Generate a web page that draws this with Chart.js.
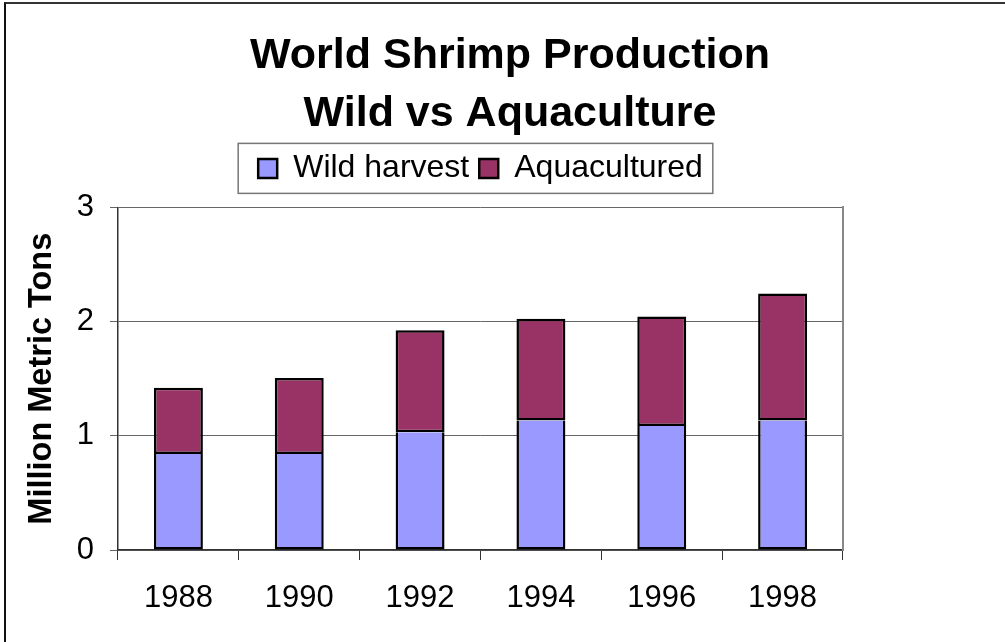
<!DOCTYPE html>
<html>
<head>
<meta charset="utf-8">
<script src="https://cdn.jsdelivr.net/npm/chart.js@4/dist/chart.umd.min.js"></script>
<style>
  html, body { margin: 0; padding: 0; background: #fff; }
  #wrap { position: relative; width: 1005px; height: 642px; }
  #frame {
    position: absolute; left: 4px; top: 2px; right: -10px; bottom: -10px;
    border-top: 2px solid #333; border-left: 2px solid #111;
    pointer-events: none;
  }
</style>
</head>
<body>
<div id="wrap">
  <canvas id="chart"></canvas>
  <div id="frame"></div>
</div>
<script>
// Data (million metric tons)
const years = ['1988', '1990', '1992', '1994', '1996', '1998'];
const wildHarvest = [0.84, 0.84, 1.03, 1.135, 1.085, 1.135];
const aquacultured = [0.58, 0.665, 0.895, 0.89, 0.96, 1.11];
const yTicks = [0, 1, 2, 3];

const FONT = "'Liberation Sans', Arial, sans-serif";
Chart.defaults.color = '#000';
Chart.defaults.font.family = FONT;

// Grey box drawn round the legend items
const legendFrame = {
  id: 'legendFrame',
  afterDraw(chart) {
    const boxes = chart.legend.legendHitBoxes;
    if (!boxes || !boxes.length) return;
    const ctx = chart.ctx;
    const first = boxes[0];
    const last = boxes[boxes.length - 1];
    const cy = first.top + first.height / 2;
    const left = first.left - 20;
    const right = last.left + last.width + 10;
    ctx.save();
    ctx.strokeStyle = '#777';
    ctx.lineWidth = 1.5;
    ctx.strokeRect(left, cy - 25, right - left, 50);
    ctx.restore();
  }
};

new Chart(document.getElementById('chart'), {
  type: 'bar',
  data: {
    labels: years,
    datasets: [
      {
        label: 'Wild harvest',
        data: wildHarvest,
        backgroundColor: '#9999FF',
        borderColor: '#000',
        borderWidth: 2.5,
        borderSkipped: 'top'
      },
      {
        label: 'Aquacultured',
        data: aquacultured,
        backgroundColor: '#993366',
        borderColor: '#000',
        borderWidth: 2.5,
        borderSkipped: false
      }
    ]
  },
  options: {
    responsive: true,
    maintainAspectRatio: false,
    animation: false,
    layout: { padding: { left: 15, right: 0, top: 0, bottom: 0 } },
    datasets: {
      bar: { categoryPercentage: 1, barPercentage: 0.405 }
    },
    plugins: {
      title: {
        display: true,
        text: ['World Shrimp Production', 'Wild vs Aquaculture'],
        font: { size: 43, weight: 'bold', family: FONT, lineHeight: 1.33 },
        padding: { top: 28, bottom: 0 }
      },
      // empty subtitle used only as a spacer between legend and plot
      subtitle: {
        display: true,
        text: '',
        position: 'top',
        weight: 500,
        font: { size: 5, lineHeight: 1 },
        padding: { top: 4, bottom: 4 }
      },
      legend: {
        display: true,
        fullSize: false,
        labels: {
          font: { size: 32, family: FONT },
          boxWidth: 19,
          boxHeight: 19,
          padding: 10
        }
      },
      tooltip: { enabled: false }
    },
    scales: {
      x: {
        stacked: true,
        offset: true,
        grid: {
          drawOnChartArea: false,
          drawTicks: true,
          tickLength: 10,
          color: '#333',
          offset: true
        },
        border: { color: '#333', width: 1.5 },
        ticks: { font: { size: 31, family: FONT }, padding: 20 },
        afterFit(axis) { axis.height = 92; }
      },
      y: {
        stacked: true,
        min: 0,
        max: 3,
        afterBuildTicks(axis) { axis.ticks = yTicks.map(v => ({ value: v })); },
        grid: { color: '#666', lineWidth: 1, tickLength: 8 },
        border: { color: '#333', width: 1.5 },
        ticks: { font: { size: 31, family: FONT }, padding: 16 },
        title: {
          display: true,
          text: 'Million Metric Tons',
          font: { size: 32.5, weight: 'bold', family: FONT },
          padding: { top: 8, bottom: 0 }
        },
        afterFit(axis) { axis.width = 103; }
      },
      // empty right axis: keeps the plot narrow and draws its grey right edge
      edge: {
        type: 'linear',
        position: 'right',
        min: 0,
        max: 3,
        ticks: { display: false },
        grid: { display: false },
        border: { display: true, color: '#888', width: 2 },
        afterFit(axis) { axis.width = 162; }
      }
    }
  },
  plugins: [legendFrame]
});
</script>
</body>
</html>
